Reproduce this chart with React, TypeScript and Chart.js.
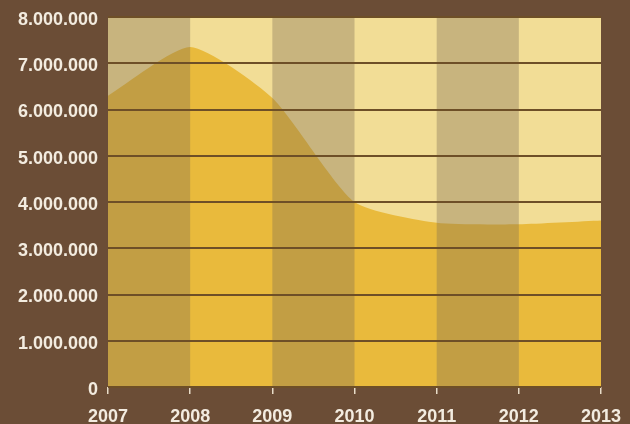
import React, { useEffect, useRef } from "react";
import { Chart, registerables } from "chart.js";

Chart.register(...registerables);

const years = [2007, 2008, 2009, 2010, 2011, 2012, 2013];
const values = [6300000, 7350000, 6250000, 4000000, 3550000, 3520000, 3600000];
const yTicks = [0, 1000000, 2000000, 3000000, 4000000, 5000000, 6000000, 7000000, 8000000];
const darkBands = [
  [2007, 2008],
  [2009, 2010],
  [2011, 2012],
];

const BG = "#6b4d36";
const LIGHT = "#f2dd96";
const AREA = "#e9ba3c";
const DARK_OVERLAY = "rgba(126,108,83,0.36)";
const GRID = "#6e4f27";
const TEXT = "#f3ece0";

const fmt = (v: number) => String(Math.round(v)).replace(/\B(?=(\d{3})+(?!\d))/g, ".");

const bandsPlugin = {
  id: "bands",
  beforeDatasetsDraw(chart: any) {
    const { ctx, chartArea } = chart;
    ctx.save();
    ctx.fillStyle = LIGHT;
    ctx.fillRect(chartArea.left, chartArea.top, chartArea.right - chartArea.left, chartArea.bottom - chartArea.top);
    ctx.restore();
  },
  afterDatasetsDraw(chart: any) {
    const { ctx, chartArea, scales } = chart;
    ctx.save();
    ctx.fillStyle = DARK_OVERLAY;
    for (const [a, b] of darkBands) {
      const x1 = scales.x.getPixelForValue(a);
      const x2 = scales.x.getPixelForValue(b);
      ctx.fillRect(x1, chartArea.top, x2 - x1, chartArea.bottom - chartArea.top);
    }
    ctx.restore();
  },
};

export default function App() {
  const ref = useRef<HTMLCanvasElement>(null);
  useEffect(() => {
    if (!ref.current) return;
    const font = { family: "'Liberation Sans', Arial, sans-serif", size: 18, weight: "bold" as const };
    const chart = new Chart(ref.current, {
      type: "line",
      data: {
        datasets: [
          {
            data: years.map((y, i) => ({ x: y, y: values[i] })),
            fill: "origin",
            backgroundColor: AREA,
            borderWidth: 0,
            borderColor: "rgba(0,0,0,0)",
            pointRadius: 0,
            tension: 0.2,
          },
        ],
      },
      options: {
        animation: false,
        responsive: false,
        events: [],
        layout: { padding: { top: 17, right: 29, left: 0, bottom: 0 } },
        plugins: { legend: { display: false }, tooltip: { enabled: false } },
        scales: {
          x: {
            type: "linear",
            min: 2007,
            max: 2013,
            afterBuildTicks: (s: any) => {
              s.ticks = years.map((v) => ({ value: v }));
            },
            afterFit: (s: any) => {
              s.height = 37;
              s.paddingLeft = 0;
              s.paddingRight = 0;
            },
            ticks: {
              color: TEXT,
              font,
              padding: 12,
              maxRotation: 0,
              autoSkip: false,
              callback: (v: any) => String(v),
            },
            grid: { drawOnChartArea: false, drawTicks: true, tickLength: 7, color: "#e8dcc8", lineWidth: 1.5 },
            border: { display: false },
          },
          y: {
            min: 0,
            max: 8000000,
            afterBuildTicks: (s: any) => {
              s.ticks = yTicks.map((v) => ({ value: v }));
            },
            afterFit: (s: any) => {
              s.width = 108;
              s.paddingTop = 0;
              s.paddingBottom = 0;
            },
            ticks: {
              color: TEXT,
              font,
              padding: 10,
              labelOffset: 3,
              callback: (v: any) => fmt(Number(v)),
            },
            grid: { color: GRID, lineWidth: 2, drawTicks: false, z: 1 },
            border: { display: false },
          },
        },
      },
      plugins: [bandsPlugin],
    });
    return () => chart.destroy();
  }, []);
  return (
    <div style={{ position: "fixed", left: 0, top: 0, width: 630, height: 424, background: BG }}>
      <canvas ref={ref} width={630} height={424} style={{ display: "block" }} />
    </div>
  );
}
